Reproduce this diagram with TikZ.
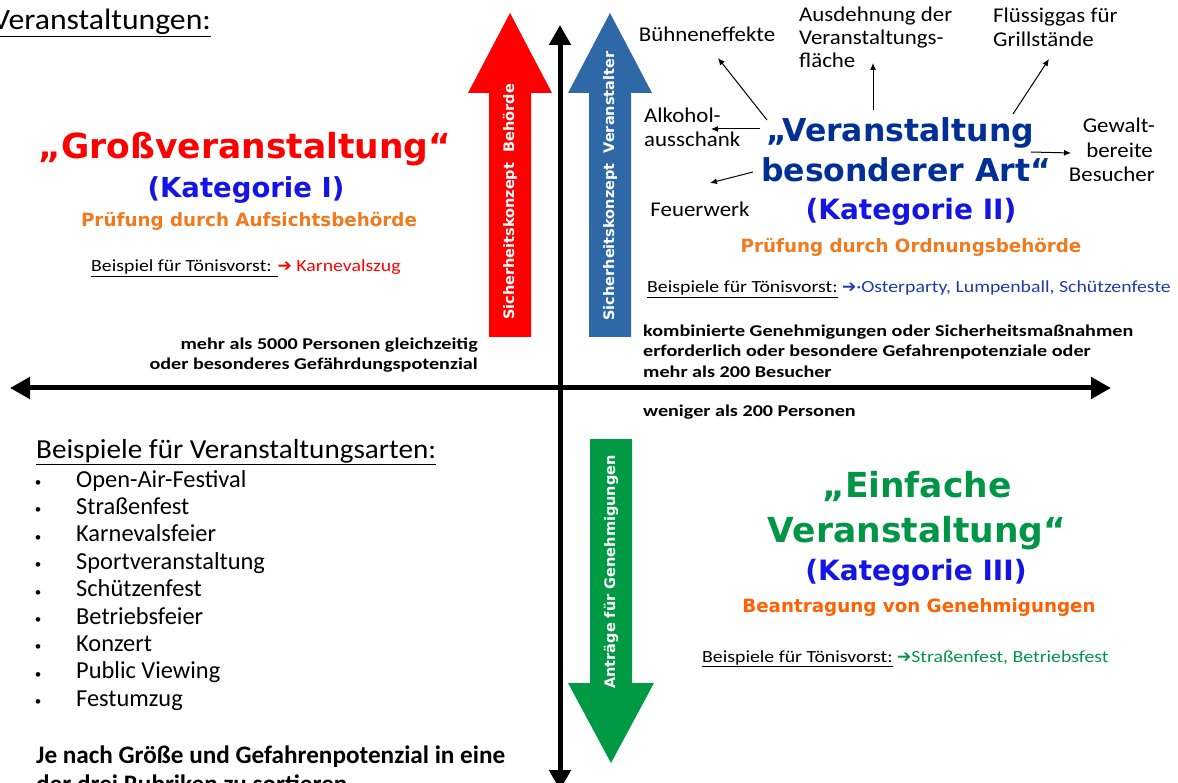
\documentclass[tikz,border=0pt]{standalone}
\usepackage{fontspec}
\setmainfont{Carlito}
\newfontfamily\titelfont{DejaVu Sans}
\newfontfamily\symbolfont{DejaVu Sans}
\newfontfamily\kopffont[FakeStretch=1.075]{Carlito}
\newfontfamily\artenfont[FakeStretch=1.06]{Carlito}
\newfontfamily\satfont[FakeStretch=1.09]{Carlito}
\newfontfamily\bspfont[FakeStretch=1.165]{Carlito}
\newfontfamily\hinweisfont[FakeStretch=1.22]{Carlito}
\usetikzlibrary{arrows.meta,calc}

\definecolor{grossrot}{RGB}{255,0,0}
\definecolor{konzeptblau}{RGB}{46,104,166}
\definecolor{antraggruen}{RGB}{0,154,68}
\definecolor{navy}{RGB}{0,48,150}
\definecolor{katblau}{RGB}{20,20,230}
\definecolor{pruefor}{RGB}{240,122,30}
\definecolor{antragor}{RGB}{255,96,0}
\definecolor{textgruen}{RGB}{0,150,70}
\definecolor{linkblau}{RGB}{30,60,170}

\newcommand{\fs}[1]{\fontsize{#1}{#1}\selectfont}
\newcommand{\pfeilsym}{{\symbolfont ➔}}

\tikzset{
  achse/.style={line width=5pt, {Triangle[length=20pt,width=21pt]}-{Triangle[length=20pt,width=21pt]}},
  zeiger/.style={line width=1pt, -{Latex[length=7pt,width=6pt]}},
  txt/.style={inner sep=0pt, anchor=base},
  titel/.style={txt, font=\titelfont\bfseries\fs{34.5}},
  kat/.style={txt, font=\titelfont\bfseries\fs{28}, text=katblau},
  pruef/.style={txt, font=\titelfont\bfseries\fs{18.3}},
  bsp/.style={txt, anchor=base west, font=\bspfont\fs{17}},
  sat/.style={txt, font=\satfont\fs{21}},
  hinweis/.style={txt, font=\hinweisfont\bfseries\fs{16.5}},
  liste/.style={txt, anchor=base west, font=\fs{24.4}},
  pfeiltext/.style={inner sep=0pt, rotate=90, text=white, font=\titelfont\bfseries\fs{14.5}},
}

\begin{document}
\begin{tikzpicture}[x=1pt, y=-1pt]
    \clip (0,0) rectangle (1178,783);

    % Achsen
    \coordinate (oben) at (560,25);
    \coordinate (unten) at (560,790);
    \coordinate (links) at (10,388);
    \coordinate (rechts) at (1111,388);
    \draw[achse] (unten) -- (oben);
    \draw[achse] (links) -- (rechts);

    % Sicherheitskonzept Behoerde (roter Pfeil)
    \fill[grossrot] (489,337) -- (489,93) -- (468,93) -- (510,13) -- (552,93) -- (531,93) -- (531,337) -- cycle;
    \node[pfeiltext] (behoerde) at (510,202) {Sicherheitskonzept~ Behörde};

    % Sicherheitskonzept Veranstalter (blauer Pfeil)
    \fill[konzeptblau] (589,337) -- (589,93) -- (568,93) -- (610,13) -- (652,93) -- (631,93) -- (631,337) -- cycle;
    \node[pfeiltext] (veranstalter) at (610,186) {Sicherheitskonzept~ Veranstalter};

    % Antraege (gruener Pfeil)
    \fill[antraggruen] (590,439) -- (590,683) -- (568,683) -- (611,763) -- (654,683) -- (632,683) -- (632,439) -- cycle;
    \node[pfeiltext] (antraege) at (611,572) {Anträge für Genehmigungen};

    % Kopfzeile
    \node[txt, anchor=base west, font=\kopffont\fs{29.5}] (kopf) at (-8,30) {\underline{Veranstaltungen:}};

    % Kategorie I
    \node[titel, text=grossrot] (gross) at (245,159) {„Großveranstaltung“};
    \node[kat, font=\titelfont\bfseries\fs{27.5}] (kat1) at (246,198) {(Kategorie I)};
    \node[pruef, text=pruefor] (pruef1) at (249,227) {Prüfung durch Aufsichtsbehörde};
    \node[bsp] (bsp1) at (91,272) {\underline{Beispiel für Tönisvorst: }\textcolor{grossrot}{\pfeilsym\ Karnevalszug}};

    % Kategorie II
    \node[titel, text=navy, font=\titelfont\bfseries\fs{31.5}] (art1) at (900,142) {„Veranstaltung};
    \node[titel, text=navy, font=\titelfont\bfseries\fs{31.5}] (art2) at (906,182) {besonderer Art“};
    \node[kat] (kat2) at (911,220) {(Kategorie II)};
    \node[pruef, text=pruefor] (pruef2) at (911,253) {Prüfung durch Ordnungsbehörde};
    \node[bsp] (bsp2) at (647,293) {\underline{Beispiele für Tönisvorst:} \textcolor{linkblau}{\pfeilsym·Osterparty, Lumpenball, Schützenfeste}};

    % Besondere Gefahren
    \node[sat] (buehne) at (707,42) {Bühneneffekte};
    \node[sat, anchor=base west] (ausd1) at (799,22) {Ausdehnung der};
    \node[sat, anchor=base west] (ausd2) at (799,45) {Veranstaltungs-};
    \node[sat, anchor=base west] (ausd3) at (799,68) {fläche};
    \node[sat, anchor=base west] (fluess1) at (993,23) {Flüssiggas für};
    \node[sat, anchor=base west] (fluess2) at (993,47) {Grillstände};
    \node[sat, anchor=base west] (alk1) at (644,123) {Alkohol-};
    \node[sat, anchor=base west] (alk2) at (644,147) {ausschank};
    \node[sat, anchor=base east] (gew1) at (1155,133) {Gewalt-};
    \node[sat, anchor=base east] (gew2) at (1153,158) {bereite};
    \node[sat, anchor=base east] (gew3) at (1155,182) {Besucher};
    \node[sat] (feuer) at (700,217) {Feuerwerk};

    \draw[zeiger] ($(art1.base)+(-133,-22)$) -- ($(buehne.base)+(11,16)$);
    \draw[zeiger] ($(art1.base)+(-27,-32)$) -- ($(ausd3.base west)+(74,-5)$);
    \draw[zeiger] ($(art1.base)+(113,-28)$) -- ($(fluess2.base west)+(56,12)$);
    \draw[zeiger] ($(art1.base)+(-140,-13)$) -- ($(alk1.base west)+(67,6)$);
    \draw[zeiger] ($(art2.base)+(125,-30)$) -- ($(gew2.base east)+(-82,-5)$);
    \draw[zeiger] ($(art2.base)+(-153,-10)$) -- ($(feuer.base)+(10,-34)$);

    % Schwellen
    \node[hinweis, anchor=base east] (mehr1) at (478,350) {mehr als 5000 Personen gleichzeitig};
    \node[hinweis, anchor=base east] (mehr2) at (478,370) {oder besonderes Gefährdungspotenzial};
    \node[hinweis, anchor=base west] (komb1) at (643,337) {kombinierte Genehmigungen oder Sicherheitsmaßnahmen};
    \node[hinweis, anchor=base west] (komb2) at (643,357) {erforderlich oder besondere Gefahrenpotenziale oder};
    \node[hinweis, anchor=base west] (komb3) at (643,378) {mehr als 200 Besucher};
    \node[hinweis, anchor=base west] (weniger) at (643,417) {weniger als 200 Personen};

    % Veranstaltungsarten
    \node[txt, anchor=base west, font=\artenfont\fs{27.5}] (arten) at (36,458) {\underline{Beispiele für Veranstaltungsarten:}};
    \foreach \typ [count=\i] in {Open-Air-Festival, Straßenfest, Karnevalsfeier, Sportveranstaltung, Schützenfest, Betriebsfeier, Konzert, Public Viewing, Festumzug} {
        \node[txt, font=\fs{13}] (pkt\i) at (38,{486.5+27.4*(\i-1)}) {•};
        \node[liste] (typ\i) at (76,{487+27.4*(\i-1)}) {\typ};
    }
    \node[txt, anchor=base west, font=\bfseries\fs{25.2}] (je1) at (36,763) {Je nach Größe und Gefahrenpotenzial in eine};
    \node[txt, anchor=base west, font=\bfseries\fs{25.2}] (je2) at (36,792) {der drei Rubriken zu sortieren.};

    % Kategorie III
    \node[titel, text=textgruen] (einf1) at (917,497) {„Einfache};
    \node[titel, text=textgruen] (einf2) at (917,542) {Veranstaltung“};
    \node[kat] (kat3) at (916,580) {(Kategorie III)};
    \node[pruef, text=antragor] (antrag) at (919,612) {Beantragung von Genehmigungen};
    \node[bsp] (bsp3) at (702,662) {\underline{Beispiele für Tönisvorst:} \textcolor{textgruen}{\pfeilsym Straßenfest, Betriebsfest}};
\end{tikzpicture}
\end{document}
